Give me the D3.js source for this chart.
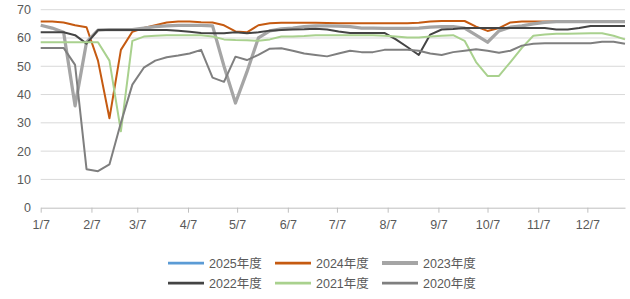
<!DOCTYPE html>
<html>
<head>
<meta charset="utf-8">
<script src="https://cdn.jsdelivr.net/npm/d3@7"></script>
<style>
  html, body { margin: 0; padding: 0; background: #fff; }
  svg { display: block; }
  text { font-family: "Liberation Sans", "Noto Sans CJK SC", sans-serif; fill: #595959; }
</style>
</head>
<body>
<svg id="chart" width="630" height="299"></svg>
<script>
// ---- data ----
const startDate = "2021-01-07";            // first weekly observation
const weekCount = 52;
const tickLabels = ["1/7","2/7","3/7","4/7","5/7","6/7","7/7","8/7","9/7","10/7","11/7","12/7"];
const yTicks = [0, 10, 20, 30, 40, 50, 60, 70];
const seriesNames = ["2025年度","2024年度","2023年度","2022年度","2021年度","2020年度"];

const s2025 = [];
const s2024 = [65.8,65.8,65.5,64.5,63.8,52,31.6,55.8,62.2,63.5,64.5,65.5,65.8,65.8,65.6,65.5,64.5,62.3,62,64.5,65.2,65.4,65.4,65.4,65.4,65.3,65.2,65.2,65.2,65.2,65.2,65.2,65.2,65.4,65.8,66,66,66,64,62.5,63.5,65.5,65.8,65.8,65.8,65.8,65.8,65.8,65.8,65.8,65.8,65.8];
const s2023 = [64.5,63.5,62,36,58.5,62.8,63,63,63,63.5,64,64.3,64.5,64.5,64.5,64.3,50,37,48,60,62.5,63.2,63.5,64,64.3,64.3,64.2,64,63.5,63.5,63.4,63.4,63.4,63.5,63.8,64,64,63.5,61,58.5,62.5,63.8,64.3,65,65.5,65.8,65.8,65.8,65.8,65.8,65.8,65.8];
const s2022 = [62,62,62,61,58,62.8,62.8,62.8,62.8,62.8,62.8,62.8,62.6,62.2,61.8,61.7,61.7,62,61.7,62,62.6,62.8,63,63.1,63.3,63,62.3,61.8,61.8,61.8,61.8,59.5,56.8,54,61.2,63,63.2,63.5,63.5,63.5,63.5,63.5,63.5,63.5,63.5,63,63,63.5,64.2,64.2,64.2,64.2];
const s2021 = [58.5,58.5,58.5,58.5,58.5,58.5,52,27,59,60.5,60.8,61,61,61,61,60.5,59.5,59.3,59.2,59,59.5,60.5,60.5,60.7,61,61,61,61,61,61,60.8,60.5,60.2,60.2,60.5,60.8,61,59,51.5,46.6,46.6,51.5,56.5,60.8,61.2,61.5,61.5,61.6,61.7,61.7,60.8,59.5];
const s2020 = [56.5,56.5,56.5,50.5,13.6,12.9,15.3,30,43.5,49.5,52,53.2,53.8,54.5,55.8,46,44.5,53.4,52.2,54,56.2,56.4,55.5,54.5,54,53.5,54.5,55.5,55,55,55.8,55.8,55.8,55.5,54.5,54,55,55.5,56,55.5,54.8,55.5,57.3,58,58.1,58.1,58.1,58.1,58.1,58.7,58.7,58];

const seriesValues = [s2025, s2024, s2023, s2022, s2021, s2020];
const seriesColors = ["#5B9BD5", "#C55A11", "#A5A5A5", "#444444", "#A9D18E", "#7F7F7F"];
const seriesWidths = [2, 2, 3.25, 2, 2, 2];

// ---- build ----
const t0 = new Date(startDate + "T00:00:00Z");
const dates = d3.range(weekCount).map(i => d3.utcDay.offset(t0, 7 * i));
const tickDates = tickLabels.map(l => {
  const [m, d] = l.split("/").map(Number);
  return new Date(Date.UTC(2021, m - 1, d));
});

const svg = d3.select("#chart");
const x = d3.scaleUtc().domain([dates[0], dates[dates.length - 1]]).range([40.7, 625]);
const y = d3.scaleLinear().domain([0, 70]).range([207.7, 9.7]);

// gridlines
svg.append("g")
  .selectAll("line").data(yTicks.filter(v => v > 0)).join("line")
  .attr("x1", x.range()[0]).attr("x2", x.range()[1])
  .attr("y1", d => y(d)).attr("y2", d => y(d))
  .attr("stroke", "#d9d9d9").attr("stroke-width", 1);

// y labels
svg.append("g")
  .selectAll("text").data(yTicks).join("text")
  .attr("x", 31).attr("y", d => y(d))
  .attr("dy", "0.35em").attr("text-anchor", "end")
  .attr("font-size", 12.5)
  .text(d => d);

// x axis
const xAxis = d3.axisBottom(x)
  .tickValues(tickDates)
  .tickFormat((d, i) => tickLabels[i])
  .tickSize(5).tickSizeOuter(0).tickPadding(7);
const gx = svg.append("g").attr("transform", `translate(0,${y(0)})`).call(xAxis);
gx.select(".domain").attr("stroke", "#bfbfbf");
gx.selectAll(".tick line").attr("stroke", "#bfbfbf");
gx.selectAll(".tick text").attr("font-size", 12.5).attr("fill", "#595959")
  .attr("font-family", "\"Liberation Sans\", sans-serif");

// lines
const line = d3.line().x((d, i) => x(dates[i])).y(d => y(d));
seriesValues.forEach((vals, k) => {
  if (!vals.length) return;
  svg.append("path").datum(vals)
    .attr("fill", "none")
    .attr("stroke", seriesColors[k])
    .attr("stroke-width", seriesWidths[k])
    .attr("stroke-linejoin", "round")
    .attr("d", line);
});

// legend
const legend = svg.append("g");
seriesNames.forEach((name, k) => {
  const col = k % 3, row = Math.floor(k / 3);
  const lx = 168 + col * 107, ly = 263 + row * 20;
  legend.append("line")
    .attr("x1", lx).attr("x2", lx + 36)
    .attr("y1", ly).attr("y2", ly)
    .attr("stroke", seriesColors[k]).attr("stroke-width", seriesWidths[k] + 0.75);
  legend.append("text")
    .attr("x", lx + 41).attr("y", ly).attr("dy", "0.36em")
    .attr("font-size", 12.5)
    .text(name);
});
</script>
</body>
</html>
